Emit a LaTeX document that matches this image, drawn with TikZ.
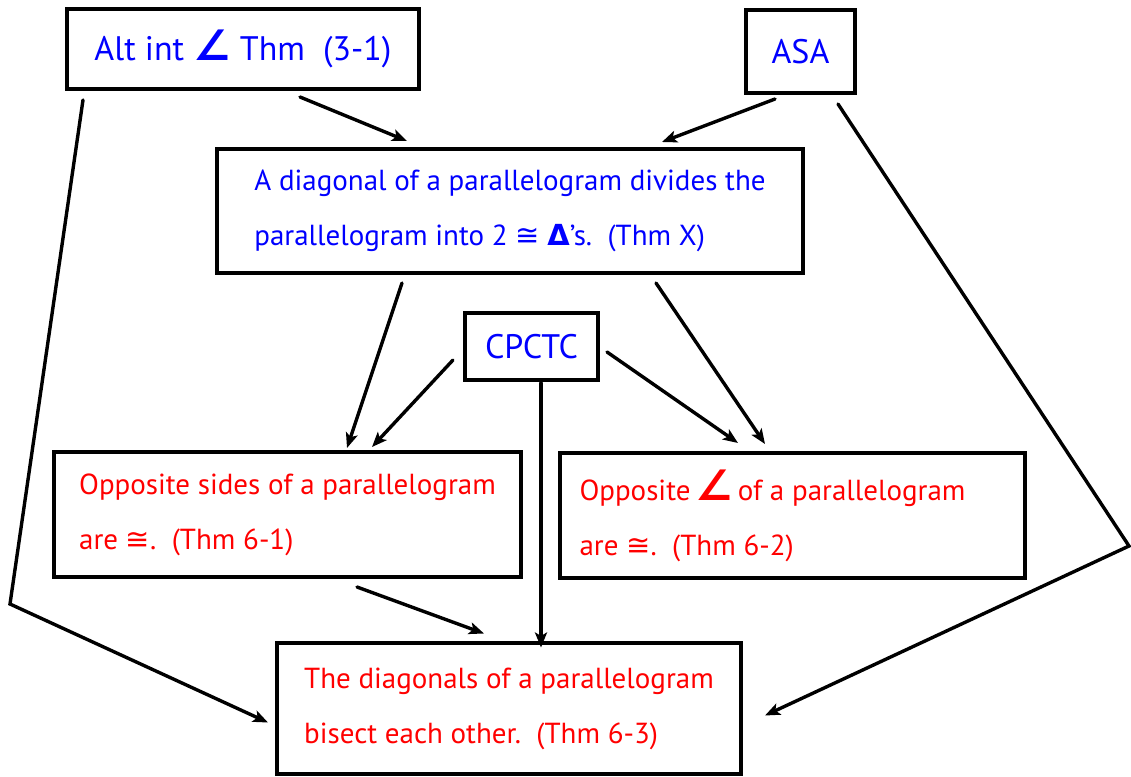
\documentclass[tikz,border=0pt]{standalone}
\usepackage{fontspec}
\setmainfont{PT Sans}
\newfontfamily\symfont{DejaVu Sans}
\usetikzlibrary{arrows.meta}
% symbols taken from DejaVu Sans
\newcommand\angsym{{\symfont\bfseries\fontsize{42}{42}\selectfont ∠}}
\newcommand\congsym{{\symfont ≅}}
\newcommand\trisym{{\symfont\bfseries Δ}}

\begin{document}
\begin{tikzpicture}[x=1pt,y=-1pt,
  thmbox/.style={draw=black,line width=3.4pt,inner sep=0pt,align=left,
    font=\fontsize{29}{55}\selectfont},
  bigword/.style={font=\fontsize{34}{40}\selectfont,align=center},
  given/.style={text=blue},
  result/.style={text=red},
  link/.style={line width=3.4pt,line cap=round,
    -{Stealth[length=15pt,width=12pt,inset=3.5pt]}}]
\useasboundingbox (0,0) rectangle (1131,776);

% theorem boxes
\node[thmbox,given,bigword,minimum width=352,minimum height=80]
  (alt) at (243,49) {Alt int\ \angsym\ Thm\ \ (3-1)};
\node[thmbox,given,bigword,minimum width=109,minimum height=83]
  (asa) at (800.5,51.5) {ASA};
\node[thmbox,given,minimum width=586,minimum height=124]
  (diag) at (510,211)
  {A diagonal of a parallelogram divides the\\
   parallelogram into 2 \congsym\ \trisym's.\ \ (Thm X)};
\node[thmbox,given,bigword,minimum width=133,minimum height=67]
  (cp) at (531.5,346.5) {CPCTC};
\node[thmbox,result,minimum width=467,minimum height=125]
  (os) at (287.5,514.5)
  {Opposite sides of a parallelogram\\
   are \congsym.\ \ (Thm 6-1)};
\node[thmbox,result,minimum width=465,minimum height=125]
  (oa) at (792.5,515.5)
  {Opposite\,\angsym\,of a parallelogram\hspace*{40pt}\\
   are \congsym.\ \ (Thm 6-2)};
\node[thmbox,result,minimum width=464,minimum height=131]
  (bi) at (509,708.5)
  {The diagonals of a parallelogram\\
   bisect each other.\ \ (Thm 6-3)};

% bend points of the two long outer connectors
\coordinate (lbend) at (10,604);
\coordinate (rbend) at (1129,546);

% connectors
\draw[link] ([shift={(57,48)}]alt.center) -- ([shift={(-103,-70)}]diag.center);
\draw[link] ([shift={(-25.5,47.5)}]asa.center) -- ([shift={(152,-69)}]diag.center);
\draw[link] ([shift={(-160,51)}]alt.center) -- (lbend) -- ([shift={(-241,14)}]bi.center);
\draw[link] ([shift={(37.5,52.5)}]asa.center) -- (rbend) -- ([shift={(256,7)}]bi.center);
\draw[link] ([shift={(-108,72)}]diag.center) -- ([shift={(59.5,-66.5)}]os.center);
\draw[link] ([shift={(-78.5,13.5)}]cp.center) -- ([shift={(84.5,-67.5)}]os.center);
\draw[link] ([shift={(146,72)}]diag.center) -- ([shift={(-27.5,-71.5)}]oa.center);
\draw[link] ([shift={(75.5,5.5)}]cp.center) -- ([shift={(-54.5,-72.5)}]oa.center);
\draw[link] ([shift={(9.5,36.5)}]cp.center) -- ([shift={(32,-61)}]bi.center);
\draw[link] ([shift={(69.5,72.5)}]os.center) -- ([shift={(-25,-75)}]bi.center);
\end{tikzpicture}
\end{document}
